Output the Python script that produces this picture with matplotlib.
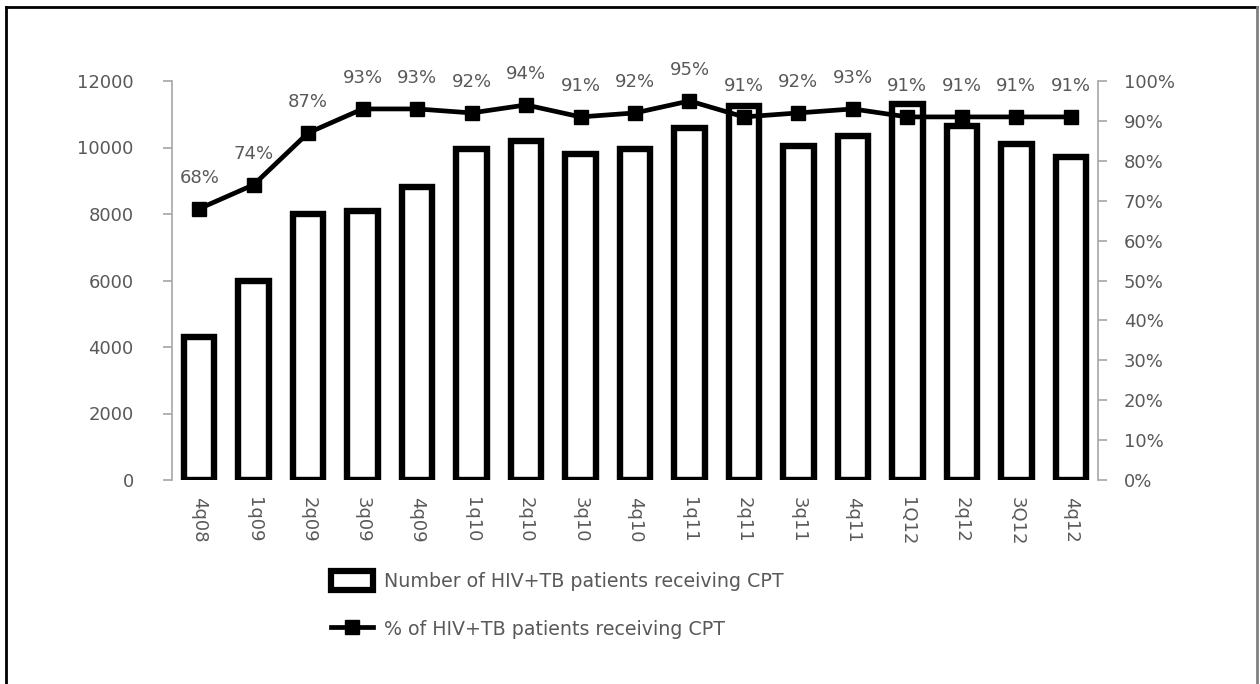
import matplotlib
matplotlib.use("Agg")
import matplotlib.pyplot as plt
from matplotlib.patches import Rectangle
from matplotlib.lines import Line2D
from matplotlib.ticker import FuncFormatter, MultipleLocator

categories = ["4q08", "1q09", "2q09", "3q09", "4q09", "1q10", "2q10", "3q10", "4q10",
              "1q11", "2q11", "3q11", "4q11", "1Q12", "2q12", "3Q12", "4q12"]
patients = [4300, 6000, 8000, 8100, 8800, 9950, 10200, 9800, 9950,
            10600, 11250, 10050, 10350, 11300, 10650, 10100, 9700]
percent = [68, 74, 87, 93, 93, 92, 94, 91, 92, 95, 91, 92, 93, 91, 91, 91, 91]

bar_label = "Number of HIV+TB patients receiving CPT"
line_label = "% of HIV+TB patients receiving CPT"

plt.rcParams['font.family'] = ['DejaVu Sans']
GRAY = "#595959"
AXG = "#a6a6a6"
FS = 13

fig = plt.figure(figsize=(12.6, 6.84), dpi=100)
ax = fig.add_axes([172/1260, 1-480/684, (1098-172)/1260, (480-81)/684])
x = list(range(len(categories)))
ax.bar(x, patients, width=0.56, facecolor="white", edgecolor="black", linewidth=4.6, zorder=2)
ax.set_xlim(-0.5, len(categories)-0.5)
ax.set_ylim(0, 12000)
ax.yaxis.set_major_locator(MultipleLocator(2000))
ax.set_xticks(x)
ax.set_xticklabels(categories, rotation=-90, color=GRAY, fontsize=FS)
ax.tick_params(axis='x', length=0, pad=12)
ax.tick_params(axis='y', colors=AXG, labelcolor=GRAY, labelsize=FS, length=6.5, width=1.2, pad=21)
for s in ["top", "right", "bottom"]:
    ax.spines[s].set_visible(False)
ax.spines["left"].set_color(AXG)
ax.spines["left"].set_linewidth(1.2)

ax2 = ax.twinx()
ax2.plot(x, percent, color="black", linewidth=3.4, marker="s", markersize=9.5, zorder=3)
ax2.set_ylim(0, 100)
ax2.yaxis.set_major_locator(MultipleLocator(10))
ax2.yaxis.set_major_formatter(FuncFormatter(lambda v, p: f"{int(v)}%"))
ax2.tick_params(axis='y', colors=AXG, labelcolor=GRAY, labelsize=FS, length=6.5, width=1.2, pad=12)
for s in ["top", "left", "bottom"]:
    ax2.spines[s].set_visible(False)
ax2.spines["right"].set_color(AXG)
ax2.spines["right"].set_linewidth(1.2)
for xi, p in zip(x, percent):
    ax2.annotate(f"{p}%", (xi, p), xytext=(0, 22), textcoords="offset points",
                 ha="center", va="center", color=GRAY, fontsize=FS)

handles = [Rectangle((0, 0), 1, 1, facecolor="white", edgecolor="black", linewidth=4.5),
           Line2D([0], [0], color="black", linewidth=3.4, marker="s", markersize=9.5)]
fig.legend(handles, [bar_label, line_label], loc="upper left",
           bbox_to_anchor=(318/1260, 1-558/684), frameon=False, fontsize=13.7,
           labelcolor=GRAY, labelspacing=1.45, handlelength=2.2, handleheight=1.15,
           handletextpad=0.55, borderpad=0.2)

fig.add_artist(Line2D([6/1260, 6/1260], [0, 1-7/684], transform=fig.transFigure,
                      color="black", linewidth=2))
fig.add_artist(Line2D([6/1260, 1257/1260], [1-7/684, 1-7/684], transform=fig.transFigure,
                      color="black", linewidth=2))
fig.add_artist(Line2D([1257/1260, 1257/1260], [0, 1-7/684], transform=fig.transFigure,
                      color="#808080", linewidth=2))

fig.savefig("out.png", dpi=100)
